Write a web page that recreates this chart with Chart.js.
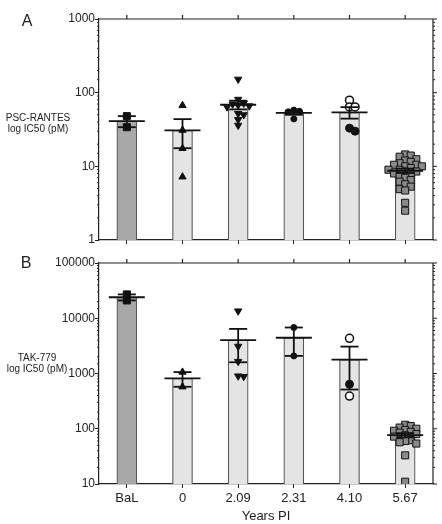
<!DOCTYPE html>
<html>
<head>
<meta charset="utf-8">
<script src="https://cdn.jsdelivr.net/npm/chart.js@4.4.1/dist/chart.umd.min.js"></script>
<style>
  body { margin: 0; background: #fff; }
  #wrap { position: relative; width: 442px; height: 524px; }
  canvas { position: absolute; left: 0; }
  #chartA { top: 0; }
  #chartB { top: 250px; }
</style>
</head>
<body>
<div id="wrap">
  <canvas id="chartA" width="442" height="250"></canvas>
  <canvas id="chartB" width="442" height="274"></canvas>
</div>
<script>
const categories = ['BaL', '0', '2.09', '2.31', '4.10', '5.67'];

// PSC-RANTES IC50 (pM), one array per virus group
const pscBaL = [48, 34];
const psc0 = [67, 31, 17.5, 7.2];
const psc209 = [152, 81, 72, 70, 68, 66, 64, 52, 50, 43, 36];
const psc231 = [58, 56, 55, 44];
const psc410Open = [79, 64, 64];
const psc410Filled = [33, 30];
const psc567 = [14.5, 14, 13.5, 12.5, 12, 11.5, 11, 10.5, 10.5, 10, 10, 9.5, 9, 9,
  8.5, 8.5, 8, 8, 7.5, 7, 6.5, 6.2, 5.7, 5.3, 4.9, 4.7, 3.2, 2.5];

// TAK-779 IC50 (pM)
const takBaL = [21000, 27000];
const tak0 = [1060, 575];
const tak209 = [13500, 3100, 1650, 900, 880];
const tak231 = [6800, 2080];
const tak410Open = [4340, 390];
const tak410Filled = [640];
const tak567 = [118, 112, 105, 100, 95, 92, 88, 85, 80, 76, 72, 62, 60, 57, 54, 33, 11];

const pscTicks = [1, 10, 100, 1000];
const takTicks = [10, 100, 1000, 10000, 100000];

const font = "'Liberation Sans', Arial, sans-serif";
const ink = '#222';

const markers = [
  { style: 'rect', r: 5, fill: '#111' },
  { style: 'triangle', r: 4.2, rot: 0, fill: '#111' },
  { style: 'triangle', r: 4.2, rot: 180, fill: '#111' },
  { style: 'circle', r: 3, fill: '#111' },
  { style: 'circle', r: 4, fill: '#111' },
  { style: 'rect', r: 5, fill: '#8a8a8a' }
];

function mean(a) { return a.reduce((s, v) => s + v, 0) / a.length; }
function sem(a) {
  const m = mean(a);
  const sd = Math.sqrt(a.reduce((s, v) => s + (v - m) ** 2, 0) / (a.length - 1));
  return sd / Math.sqrt(a.length);
}
function isMajor(v) {
  const l = Math.log10(v);
  return Math.abs(l - Math.round(l)) < 1e-9;
}

// spread the dots sideways so they don't sit on top of each other
function swarm(values, gap) {
  const placed = [];
  const offsets = new Array(values.length).fill(0);
  const order = values.map((_, i) => i).sort((a, b) => values[b] - values[a]);
  order.forEach(i => {
    const lv = Math.log10(values[i]);
    for (let k = 0; k < 30; k++) {
      const off = k === 0 ? 0 : (k % 2 ? 1 : -1) * Math.ceil(k / 2) * 0.1;
      const hit = placed.some(p => Math.abs(p.lv - lv) < gap && Math.abs(p.off - off) < 0.09);
      if (!hit) { offsets[i] = off; placed.push({ lv, off }); break; }
    }
  });
  return offsets;
}

const deco = {
  id: 'deco',
  afterDatasetsDraw(chart, args, o) {
    const { ctx, chartArea: a } = chart;
    const x = chart.scales.x, y = chart.scales.y;
    const line = (x1, y1, x2, y2) => { ctx.beginPath(); ctx.moveTo(x1, y1); ctx.lineTo(x2, y2); ctx.stroke(); };
    ctx.save();

    // mean and SEM
    ctx.strokeStyle = '#111';
    ctx.lineWidth = 1.8;
    o.means.forEach((m, i) => {
      const cx = x.getPixelForValue(i);
      const yt = y.getPixelForValue(m + o.errs[i]);
      const yb = y.getPixelForValue(Math.max(m - o.errs[i], y.min));
      const ym = y.getPixelForValue(m);
      line(cx, yt, cx, yb);
      line(cx - 9, yt, cx + 9, yt);
      line(cx - 9, yb, cx + 9, yb);
      line(cx - 18, ym, cx + 18, ym);
    });

    // frame on top and right
    ctx.strokeStyle = ink;
    ctx.lineWidth = 1.2;
    line(a.left, a.top, a.right, a.top);
    line(a.right, a.top, a.right, a.bottom);
    categories.forEach((c, i) => {
      const cx = x.getPixelForValue(i);
      line(cx, a.top, cx, a.top - 4);
    });
    ctx.lineWidth = 1;
    y.ticks.forEach(t => {
      const py = y.getPixelForValue(t.value);
      const major = isMajor(t.value);
      line(a.right, py, a.right + (major ? 4 : 2), py);
      if (!major) line(a.left - 2, py, a.left, py);
    });
    ctx.restore();
  },
  afterDraw(chart, args, o) {
    const ctx = chart.ctx;
    ctx.save();
    ctx.fillStyle = ink;
    ctx.textAlign = 'center';
    ctx.textBaseline = 'middle';
    ctx.font = '16px ' + font;
    ctx.fillText(o.letter, o.letterX, o.letterY);
    ctx.font = '10px ' + font;
    o.title.forEach((t, i) => ctx.fillText(t, o.titleX, o.titleY + i * 11.5));
    ctx.restore();
  }
};

function makePanel(id, groups, yMin, yMax, tickVals, gap, cfg) {
  const all = groups.map(g => g.flat());
  const means = all.map(mean);
  const errs = all.map(sem);

  const datasets = [{
    type: 'bar',
    order: 2,
    data: means.map((m, i) => ({ x: i, y: m })),
    backgroundColor: means.map((_, i) => i === 0 ? '#a8a8a8' : '#e4e4e4'),
    borderColor: '#555',
    borderWidth: 1.2,
    barThickness: 20
  }];

  groups.forEach((g, i) => {
    const offs = swarm(all[i], gap);
    let k = 0;
    g.forEach((subset, j) => {
      const mk = markers[i];
      const open = i === 4 && j === 0;
      datasets.push({
        type: 'scatter',
        order: 1,
        data: subset.map(v => ({ x: i + offs[k++], y: v })),
        pointStyle: mk.style,
        pointRadius: mk.r,
        pointRotation: mk.rot || 0,
        backgroundColor: open ? '#fff' : mk.fill,
        borderColor: '#111',
        borderWidth: open ? 1.5 : 1
      });
    });
  });

  new Chart(document.getElementById(id), {
    type: 'bar',
    data: { datasets },
    options: {
      responsive: false,
      animation: false,
      layout: { padding: { left: 0, right: 9, top: cfg.top, bottom: 0 } },
      plugins: {
        legend: { display: false },
        tooltip: { enabled: false },
        deco: { means, errs, letter: cfg.letter, letterX: cfg.letterX, letterY: cfg.letterY,
                title: cfg.title, titleX: cfg.titleX, titleY: cfg.titleY }
      },
      scales: {
        x: {
          type: 'linear',
          min: -0.5,
          max: 5.5,
          offset: false,
          afterBuildTicks: s => { s.ticks = categories.map((c, i) => ({ value: i })); },
          afterFit: s => { s.height = cfg.xHeight; },
          grid: { drawOnChartArea: false, drawTicks: true, tickLength: 4, color: ink, offset: false },
          border: { color: ink, width: 1.2 },
          ticks: {
            display: cfg.labels,
            autoSkip: false,
            maxRotation: 0,
            padding: 3,
            color: ink,
            font: { family: font, size: 13 },
            callback: v => categories[v]
          },
          title: {
            display: cfg.labels,
            text: 'Years PI',
            color: ink,
            font: { family: font, size: 13 },
            padding: 0
          }
        },
        y: {
          type: 'logarithmic',
          min: yMin,
          max: yMax,
          afterFit: s => { s.width = 99; },
          grid: {
            drawOnChartArea: false,
            drawTicks: true,
            tickLength: 4,
            color: c => (c.tick && isMajor(c.tick.value)) ? ink : 'rgba(0,0,0,0)'
          },
          border: { color: ink, width: 1.2 },
          ticks: {
            autoSkip: false,
            padding: 0,
            color: ink,
            font: { family: font, size: 12 },
            callback: v => tickVals.includes(v) ? String(v) : ''
          }
        }
      }
    },
    plugins: [deco]
  });
}

makePanel('chartA',
  [[pscBaL], [psc0], [psc209], [psc231], [psc410Open, psc410Filled], [psc567]],
  1, 1000, pscTicks, 0.07,
  { top: 19, xHeight: 10, labels: false, letter: 'A', letterX: 27, letterY: 22,
    title: ['PSC-RANTES', 'log IC50 (pM)'], titleX: 38, titleY: 118 });

makePanel('chartB',
  [[takBaL], [tak0], [tak209], [tak231], [tak410Open, tak410Filled], [tak567]],
  10, 100000, takTicks, 0.09,
  { top: 13, xHeight: 40, labels: true, letter: 'B', letterX: 26, letterY: 14,
    title: ['TAK-779', 'log IC50 (pM)'], titleX: 37, titleY: 108 });
</script>
</body>
</html>
